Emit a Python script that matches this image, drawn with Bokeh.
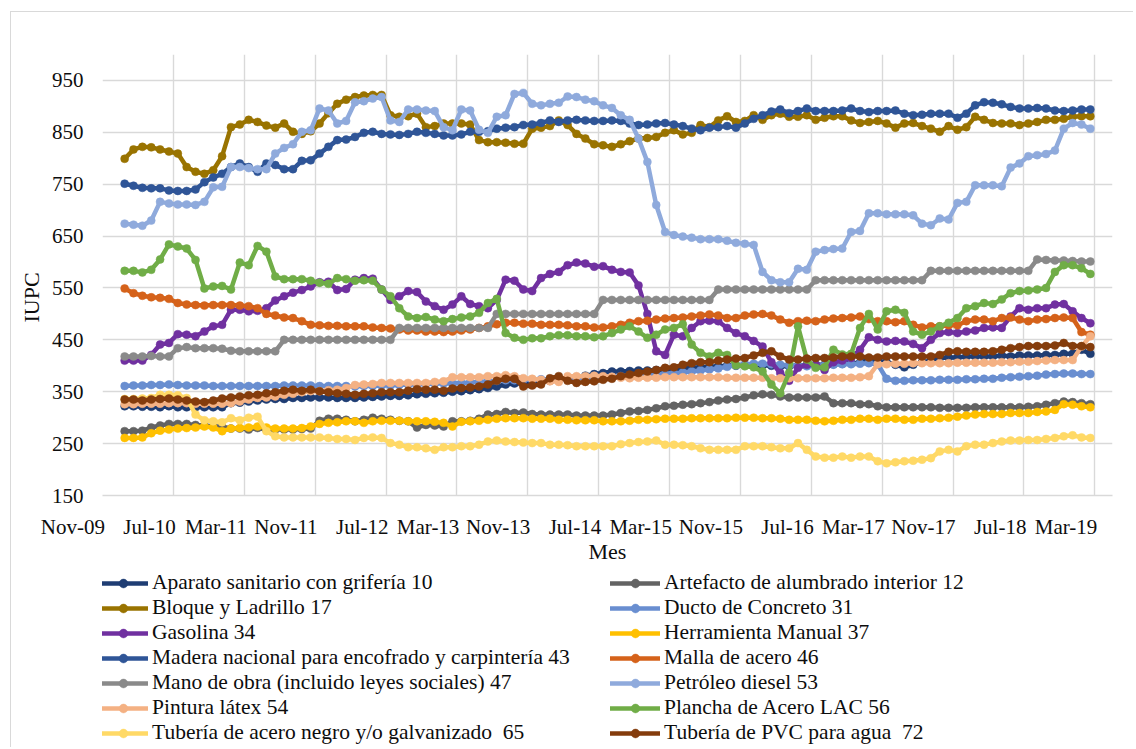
import numpy as np
from bokeh.plotting import figure
from bokeh.layouts import column
from bokeh.models import Range1d, FixedTicker, Legend, LegendItem, Title
from bokeh.embed import file_html
from bokeh.resources import INLINE

# ---------------- data (IUPC, monthly, Jan-10 ... Feb-19) ----------------
first_month = 2          # months after Nov-09 of the first observation (Jan-10)

aparato = [322, 322, 321, 321, 320, 322, 320, 320, 320, 320, 320, 320, 328, 329, 331, 333, 335, 336, 336, 338,
           338, 339, 339, 339, 338, 338, 338,
           339, 340, 341, 342, 342, 343, 345, 346, 347, 348, 350, 351, 353, 355, 357, 360, 364, 366, 366, 367,
           369, 371, 373, 375, 378, 381, 384, 386, 389,
           389, 390, 391, 391, 392, 393, 394, 395, 396, 397, 398, 399, 400, 400, 401, 401, 401, 400, 399, 399,
           400, 401, 402, 402, 403, 404, 405, 406,
           412, 410, 407, 402, 397, 402, 407, 410, 415, 416, 416, 418, 418, 418, 418, 420, 418, 420, 420, 420,
           421, 421, 423, 423, 431, 423]
artefacto = [274, 274, 275, 281, 285, 288, 288, 288, 286, 285, 283, 283, 279, 279, 277, 280, 277, 277, 277, 277,
             278, 279, 294, 298, 298, 296, 293,
             296, 300, 298, 296, 294, 293, 281, 286, 285, 283, 293, 293, 294, 298, 306, 307, 311, 309, 310, 307,
             306, 306, 306, 306, 304, 304, 304, 304, 306,
             309, 312, 313, 315, 318, 322, 323, 325, 326, 328, 330, 333, 335, 336, 339, 343, 345, 344, 341, 339,
             339, 339, 339, 341, 328, 328, 328, 326,
             326, 322, 320, 320, 320, 320, 320, 320, 319, 319, 319, 319, 320, 320, 320, 320, 320, 320, 321, 322,
             325, 328, 331, 330, 328, 326]
bloque = [799, 817, 822, 821, 817, 813, 809, 783, 774, 770, 777, 804, 860, 865, 874, 870, 863, 859, 867, 851,
          847, 852, 867, 887, 905, 913, 918,
          921, 922, 922, 883, 880, 881, 886, 860, 862, 867, 867, 867, 865, 835, 831, 831, 830, 828, 828, 857,
          859, 862, 873, 864, 847, 838, 827, 825, 822,
          827, 833, 838, 839, 841, 849, 854, 846, 849, 864, 860, 873, 881, 870, 872, 883, 874, 883, 886, 880,
          880, 883, 874, 878, 881, 881, 873, 868,
          870, 872, 867, 859, 867, 868, 862, 857, 851, 862, 855, 860, 880, 874, 868, 867, 867, 864, 867, 870,
          874, 874, 876, 880, 881, 881]
ducto = [361, 362, 362, 363, 363, 364, 363, 362, 362, 362, 361, 361, 361, 361, 361, 361, 361, 361, 362, 362,
         362, 362, 361, 361, 361, 361, 360,
         361, 361, 362, 362, 363, 364, 364, 365, 366, 366, 366, 367, 368, 369, 370, 371, 372, 372, 373, 373,
         374, 374, 375, 376, 376, 377, 378, 378, 379,
         380, 381, 381, 382, 383, 384, 385, 387, 389, 391, 393, 395, 398, 401, 403, 404, 404, 403, 402, 401,
         400, 399, 400, 401, 402, 403, 403, 404, 405,
         403, 375, 371, 371, 372, 372, 372, 373, 373, 373, 374, 374, 375, 375, 377, 378, 379, 380, 381, 383,
         384, 385, 385, 384, 384]
gasolina = [410, 410, 410, 421, 441, 444, 461, 460, 457, 466, 476, 479, 508, 508, 505, 506, 511, 526, 534, 541,
            546, 553, 561, 562, 546, 548, 566,
            569, 568, 547, 527, 534, 544, 542, 524, 515, 508, 518, 534, 519, 515, 511, 527, 566, 564, 547, 544,
            569, 577, 581, 594, 599, 597, 591, 592, 585,
            581, 580, 555, 500, 428, 421, 460, 457, 473, 486, 487, 486, 473, 463, 457, 448, 437, 407, 386, 371,
            396, 402, 402, 392, 407, 410, 415, 431, 455,
            450, 447, 448, 447, 442, 434, 450, 463, 465, 463, 466, 468, 473, 474, 473, 495, 511, 508, 511, 511,
            518, 519, 505, 492, 482]
herramienta = [261, 261, 262, 270, 275, 277, 279, 280, 281, 283, 281, 274, 279, 280, 281, 283, 281, 279, 279, 279,
               280, 283, 288, 290, 291, 293, 293,
               290, 293, 294, 294, 294, 293, 293, 293, 292, 290, 283, 292, 293, 294, 296, 298, 299, 299, 299, 298,
               298, 298, 296, 296, 295, 295, 295, 293, 293,
               293, 294, 296, 296, 297, 298, 298, 298, 299, 299, 299, 299, 299, 300, 300, 300, 299, 299, 298, 296,
               296, 296, 294, 293, 294, 296, 296, 298, 298,
               296, 298, 298, 296, 296, 298, 298, 299, 300, 302, 304, 306, 307, 307, 307, 309, 309, 309, 311, 312,
               315, 326, 325, 322, 320]
madera = [751, 747, 743, 742, 742, 738, 737, 737, 740, 754, 763, 770, 783, 790, 783, 774, 790, 787, 779, 779,
          795, 796, 809, 822, 835, 836, 841,
          849, 851, 847, 846, 845, 847, 851, 849, 847, 844, 844, 846, 851, 851, 852, 857, 859, 860, 864, 865,
          868, 873, 870, 873, 874, 873, 872, 872, 873,
          872, 867, 864, 865, 867, 868, 865, 862, 857, 854, 859, 860, 862, 859, 867, 876, 883, 890, 894, 887,
          891, 896, 891, 891, 891, 892, 896, 891,
          889, 891, 891, 892, 886, 883, 884, 886, 886, 886, 878, 886, 902, 908, 907, 904, 899, 896, 896, 897,
          896, 892, 891, 892, 894, 894]
malla = [549, 540, 535, 532, 531, 529, 521, 518, 517, 516, 517, 517, 517, 516, 515, 511, 500, 497, 493, 492,
         486, 479, 478, 477, 477, 476, 476,
         476, 474, 473, 472, 470, 468, 468, 466, 466, 465, 466, 468, 470, 473, 476, 480, 483, 483, 481, 481,
         479, 479, 479, 478, 476, 476, 474, 474, 476,
         479, 483, 486, 487, 489, 491, 492, 493, 495, 497, 499, 497, 492, 492, 497, 499, 500, 497, 489, 483,
         486, 487, 486, 489, 491, 492, 493, 495, 490,
         486, 486, 484, 486, 479, 474, 476, 476, 478, 478, 486, 489, 489, 486, 492, 493, 489, 486, 489, 490,
         492, 493, 492, 465, 460]
mano_obra = [418, 418, 418, 419, 418, 418,
             434, 436, 434, 434, 434, 433, 429, 428, 428, 428, 428, 428,
             450, 450, 450, 450, 450, 450, 450, 450, 450, 450, 450, 450, 450,
             473, 473, 473, 473, 473, 473, 473, 473, 473, 473, 473,
             500, 500, 500, 500, 500, 500, 500, 500, 500, 500, 500, 500,
             527, 527, 527, 527, 527, 527, 527, 527, 527, 527, 527, 527, 527,
             547, 547, 547, 547, 547, 547, 547, 547, 547, 547, 547,
             565, 565, 565, 565, 565, 565, 565, 565, 565, 565, 565, 565, 565,
             583, 583, 583, 583, 583, 583, 583, 583, 583, 583, 583, 583,
             605, 604, 603, 603, 602, 601, 601]
petroleo = [674, 672, 670, 680, 716, 713, 711, 711, 710, 716, 744, 745, 783, 783, 781, 779, 779, 809, 820, 827,
            851, 854, 896, 892, 867, 872, 908,
            910, 915, 918, 873, 870, 894, 894, 892, 891, 860, 854, 894, 892, 855, 849, 880, 883, 924, 926, 905,
            902, 905, 907, 919, 918, 913, 910, 902, 897,
            883, 874, 838, 793, 710, 658, 652, 649, 647, 644, 644, 644, 641, 637, 635, 633, 581, 565, 561, 561,
            587, 585, 620, 623, 625, 626, 658, 660,
            694, 694, 692, 692, 692, 690, 674, 671, 684, 682, 714, 716, 748, 748, 748, 746, 782, 790, 804, 806,
            808, 815, 857, 868, 865, 857]
pintura = [326, 326, 327, 327, 327, 328, 328, 328, 327, 327, 327, 327, 328, 331, 335, 338, 339, 341, 344, 346,
           349, 351, 351, 353, 354, 357, 363,
           364, 365, 367, 367, 367, 367, 367, 367, 369, 370, 378, 378, 378, 378, 380, 380, 382, 380, 376, 375,
           373, 370, 369, 380, 380, 380, 381, 380, 379,
           377, 376, 377, 377, 377, 378, 378, 378, 378, 378, 378, 378, 377, 377, 377, 377, 377, 376, 376, 376,
           376, 376, 376, 376, 377, 377, 377, 378, 380,
           403, 403, 404, 404, 405, 405, 405, 405, 405, 406, 406, 406, 406, 406, 407, 407, 408, 408, 409, 410,
           411, 411, 411, 437, 457]
plancha = [583, 583, 580, 585, 605, 634, 630, 626, 604, 549, 553, 554, 547, 599, 594, 631, 620, 572, 567, 567,
           567, 564, 560, 558, 569, 567, 564,
           565, 564, 547, 534, 511, 495, 492, 494, 489, 486, 490, 493, 495, 502, 521, 529, 463, 454, 450, 453,
           453, 457, 459, 459, 457, 457, 455, 457, 463,
           470, 476, 466, 454, 460, 470, 473, 480, 441, 425, 418, 425, 421, 401, 399, 397, 389, 364, 347, 386,
           476, 412, 396, 397, 431, 422, 423, 473, 500,
           470, 505, 508, 502, 466, 460, 466, 476, 483, 492, 511, 515, 521, 519, 528, 540, 544, 545, 547, 550,
           581, 594, 594, 588, 577]
tuberia_acero = [336, 336, 337, 338, 344, 344, 343, 338, 306, 295, 293, 291, 299, 295, 300, 302, 274, 264, 262, 262,
                 262, 262, 262, 261, 259, 259, 257,
                 261, 262, 261, 251, 248, 243, 243, 241, 238, 243, 243, 245, 245, 248, 254, 256, 254, 253, 252, 251,
                 251, 248, 248, 247, 245, 245, 245, 245, 245,
                 249, 251, 253, 254, 256, 248, 248, 247, 245, 241, 238, 238, 238, 238, 245, 245, 245, 243, 241, 241,
                 251, 238, 225, 223, 223, 225, 223, 225, 225,
                 216, 212, 214, 216, 217, 219, 222, 235, 238, 235, 245, 248, 248, 251, 254, 256, 256, 257, 257, 259,
                 261, 264, 266, 262, 261]
tuberia_pvc = [335, 335, 333, 335, 336, 337, 335, 333, 331, 330, 333, 337, 339, 341, 343, 344, 347, 349, 352, 354,
               352, 354, 351, 349, 347, 346, 344,
               346, 347, 349, 349, 349, 352, 355, 354, 354, 352, 356, 357, 358, 360, 364, 371, 375, 375, 360, 362,
               364, 376, 380, 371, 367, 369, 370, 373, 375,
               380, 383, 386, 389, 392, 396, 397, 402, 405, 407, 407, 410, 412, 414, 415, 420, 425, 428, 418, 412,
               412, 414, 415, 415, 416, 418, 418, 418, 416,
               416, 418, 418, 418, 418, 418, 418, 421, 427, 428, 427, 427, 427, 428, 431, 434, 436, 438, 438, 438,
               439, 444, 438, 438, 436]

series_names = ["Aparato sanitario con grifería 10", "Artefacto de alumbrado interior 12",
                "Bloque y Ladrillo 17", "Ducto de Concreto 31", "Gasolina 34", "Herramienta Manual 37",
                "Madera nacional para encofrado y carpintería 43", "Malla de acero 46",
                "Mano de obra (incluido leyes sociales) 47", "Petróleo diesel 53", "Pintura látex 54",
                "Plancha de Acero LAC 56", "Tubería de acero negro y/o galvanizado  65",
                "Tubería de PVC para agua  72"]
series_values = [aparato, artefacto, bloque, ducto, gasolina, herramienta, madera, malla, mano_obra,
                 petroleo, pintura, plancha, tuberia_acero, tuberia_pvc]
series_colors = ["#1F3D73", "#636363", "#997300", "#698ED0", "#7030A0", "#FFC000", "#2F5597",
                 "#D5621A", "#8A8A8A", "#8FAADC", "#F4B183", "#70AD47", "#FFD966", "#843C0C"]

x_tick_labels = ["Nov-09", "Jul-10", "Mar-11", "Nov-11", "Jul-12", "Mar-13", "Nov-13", "Jul-14",
                 "Mar-15", "Nov-15", "Jul-16", "Mar-17", "Nov-17", "Jul-18", "Mar-19"]
x_tick_step = 8          # months between axis labels
y_ticks = [150, 250, 350, 450, 550, 650, 750, 850, 950]

# ---------------- layout ----------------
FONT = "Liberation Serif"
TXT = "#0d0d0d"
GRID = "#D9D9D9"
X_MIN, X_MAX = 0, 114
Y_MIN, Y_MAX = 150, 1000
W = 1122

p = figure(width=W, height=554, output_backend="svg", toolbar_location=None,
           x_range=Range1d(X_MIN, X_MAX), y_range=Range1d(Y_MIN, Y_MAX),
           min_border_left=88, min_border_right=21, min_border_top=42, min_border_bottom=70)
p.outline_line_color = None
p.background_fill_color = "white"
p.border_fill_color = "white"

grid_months = [x_tick_step * k for k in range(len(x_tick_labels))]
px_per_month = 1013 / (X_MAX - X_MIN)

# x axis: labels right-aligned at their gridline (tiny angle -> right alignment)
xa = p.xaxis[0]
xa.ticker = FixedTicker(ticks=[g + 2.5 / px_per_month for g in grid_months])
xa.major_label_overrides = {g + 2.5 / px_per_month: t for g, t in zip(grid_months, x_tick_labels)}
xa.major_label_orientation = 0.0001
xa.axis_line_color = GRID
xa.axis_line_width = 1.4
xa.major_tick_line_color = None
xa.minor_tick_line_color = None
xa.major_tick_out = 0
xa.major_tick_in = 0
xa.major_label_standoff = 31
xa.major_label_text_font = FONT
xa.major_label_text_font_size = "21px"
xa.major_label_text_color = TXT
xa.axis_label = "Mes"
xa.axis_label_standoff = -15
xa.axis_label_text_font = FONT
xa.axis_label_text_font_size = "22px"
xa.axis_label_text_font_style = "normal"
xa.axis_label_text_color = TXT

p.xgrid.ticker = FixedTicker(ticks=grid_months)
p.ygrid.ticker = FixedTicker(ticks=y_ticks)
for g in (p.xgrid, p.ygrid):
    g.grid_line_color = GRID
    g.grid_line_width = 1.4

ya = p.yaxis[0]
ya.ticker = FixedTicker(ticks=y_ticks)
ya.axis_line_color = None
ya.major_tick_line_color = None
ya.minor_tick_line_color = None
ya.major_tick_out = 0
ya.major_tick_in = 0
ya.major_label_standoff = 19
ya.major_label_text_font = FONT
ya.major_label_text_font_size = "21px"
ya.major_label_text_color = TXT

p.add_layout(Title(text="IUPC", align="left", offset=173, standoff=10, text_font=FONT,
                   text_font_size="22px", text_font_style="normal", text_color=TXT), "left")

# legend lives in its own (axis-less) figure placed under the chart
lg = figure(width=W, height=181, output_backend="svg", toolbar_location=None,
            x_range=Range1d(0, 1), y_range=Range1d(0, 1), x_axis_type=None, y_axis_type=None,
            min_border=0)
lg.outline_line_color = None
lg.background_fill_color = "white"
lg.border_fill_color = "white"

items = []
for name, vals, col in zip(series_names, series_values, series_colors):
    xs = first_month + 0.5 + np.arange(len(vals))
    p.line(xs, vals, line_color=col, line_width=4.5, line_join="round", line_cap="round")
    p.scatter(xs, vals, marker="circle", size=8, fill_color=col, line_color=col, line_width=0.5)
    # legend proxies (no visible data in the legend figure)
    k1 = lg.line([float("nan")], [float("nan")], line_color=col, line_width=4.5, line_cap="round")
    k2 = lg.scatter([float("nan")], [float("nan")], marker="circle", size=8, fill_color=col,
                    line_color=col, line_width=0.5)
    items.append(LegendItem(label=name, renderers=[k1, k2]))

legend = Legend(items=items, location=(-4, 2), orientation="horizontal", ncols=2,
                label_text_font=FONT, label_text_font_size="21.5px", label_text_color=TXT,
                glyph_width=50, glyph_height=22, label_standoff=4, label_width=458, label_height=22,
                spacing=0, padding=0, margin=0, border_line_color=None, background_fill_alpha=0)
lg.add_layout(legend, "center")

page = column(p, lg, spacing=0)
page.styles = {"margin-left": "10px", "margin-top": "11px",
               "border-left": "1px solid #D9D9D9", "border-top": "1px solid #D9D9D9"}

open("out.html", "w").write(file_html(page, INLINE))
